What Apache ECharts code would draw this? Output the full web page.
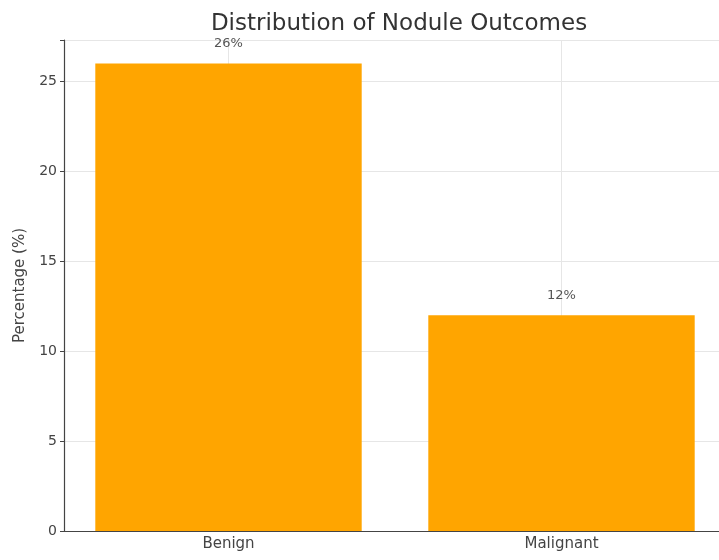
<!DOCTYPE html>
<html lang="en">
<head>
    <meta charset="utf-8" />
    <title>Distribution of Nodule Outcomes</title>
    <script src="https://cdn.jsdelivr.net/npm/echarts@6/dist/echarts.min.js"></script>
    <style>
        html, body { margin: 0; padding: 0; background: #fff; overflow: hidden; }
    </style>
</head>
<body>
    <!-- plot area runs a few px past the right edge, as in the original image -->
    <div id="box" style="height:560px;width:728px"></div>
    <script>
        // data
        var categories = ['Benign', 'Malignant'];
        var percentages = [26, 12];
        var yTicks = [0, 5, 10, 15, 20, 25];

        var font = 'DejaVu Sans';
        var myChart = echarts.init(document.getElementById('box'));
        var option = {
            animation: false,
            title: {
                text: 'Distribution of Nodule Outcomes',
                left: 394,
                textAlign: 'center',
                top: 8,
                textStyle: { fontFamily: font, fontSize: 23, fontWeight: 'normal', color: '#333' }
            },
            grid: { left: 62, right: 0, top: 40, bottom: 29 },
            xAxis: {
                type: 'category',
                data: categories,
                axisLine: { lineStyle: { color: '#444', width: 1.2 } },
                axisTick: { alignWithLabel: true, length: 4, lineStyle: { color: '#444' } },
                axisLabel: { fontFamily: font, fontSize: 15, color: '#444', margin: 6 },
                splitLine: { show: false }
            },
            yAxis: {
                type: 'value',
                min: 0,
                max: 27.3,
                interval: 5,
                offset: -2,
                name: 'Percentage (%)',
                nameLocation: 'middle',
                nameGap: 36,
                nameTextStyle: { fontFamily: font, fontSize: 15, color: '#444' },
                axisLine: { show: true, lineStyle: { color: '#444', width: 1.2 } },
                axisTick: { show: true, length: 4, lineStyle: { color: '#444' } },
                axisLabel: {
                    fontFamily: font, fontSize: 14, color: '#444', margin: 7,
                    formatter: function (v) { return yTicks.indexOf(v) >= 0 ? String(v) : ''; }
                },
                splitLine: { show: true, lineStyle: { color: '#e6e6e6', width: 1 } }
            },
            series: [
                {
                    // vertical grid lines at category centres, behind bars
                    type: 'line',
                    z: 1,
                    data: [],
                    silent: true,
                    markLine: {
                        z: 1,
                        silent: true,
                        symbol: 'none',
                        label: { show: false },
                        lineStyle: { color: '#e6e6e6', type: 'solid', width: 1 },
                        data: categories.map(function (c) { return { xAxis: c }; })
                    }
                },
                {
                    type: 'bar',
                    z: 3,
                    data: percentages,
                    barWidth: '80%',
                    itemStyle: { color: '#FFA500' },
                    label: {
                        show: true,
                        position: 'top',
                        distance: 13,
                        fontFamily: font,
                        fontSize: 13,
                        color: '#555',
                        formatter: '{c}%'
                    }
                }
            ]
        };
        myChart.setOption(option);
    </script>
</body>
</html>
